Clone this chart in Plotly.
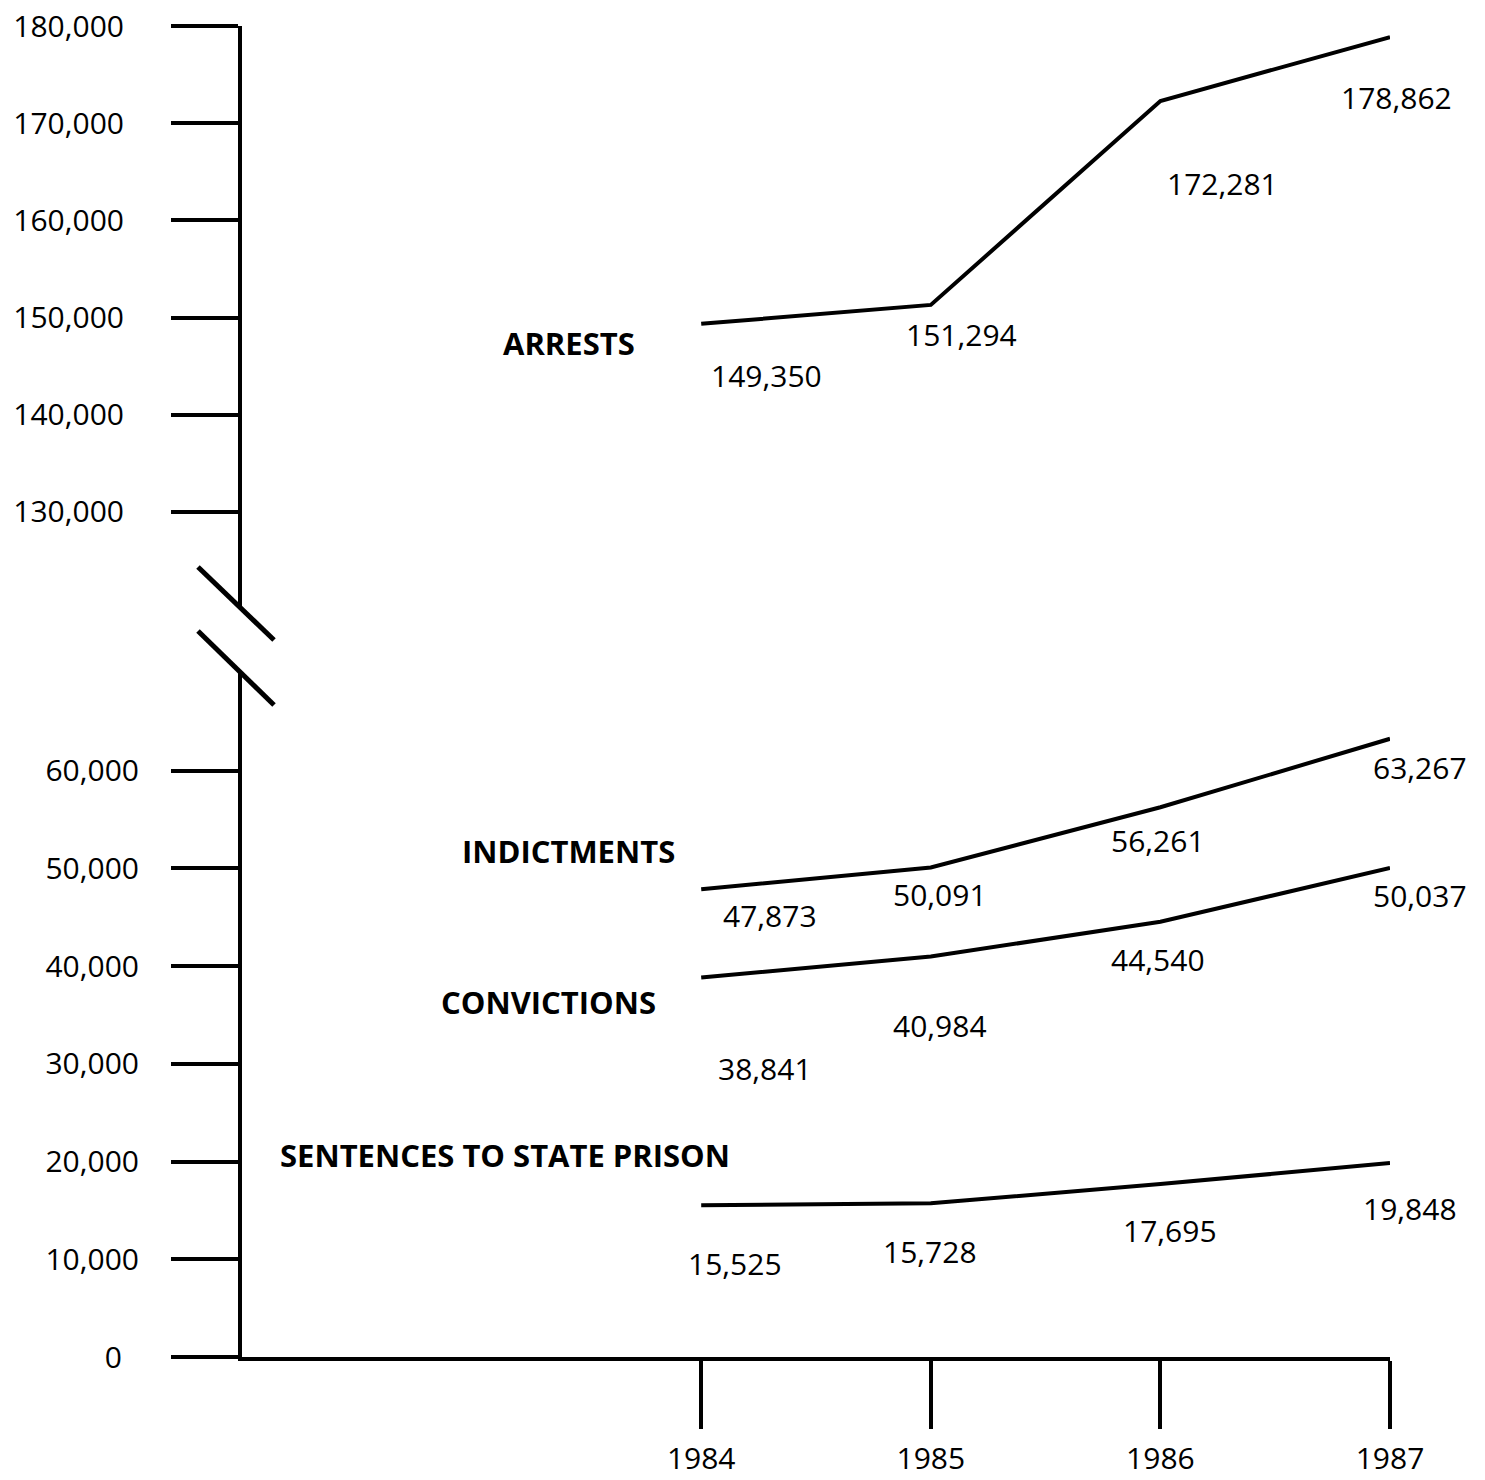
import plotly.graph_objects as go

# ---------------- data ----------------
years = [1984, 1985, 1986, 1987]
arrests = [149350, 151294, 172281, 178862]
indictments = [47873, 50091, 56261, 63267]
convictions = [38841, 40984, 44540, 50037]
sentences = [15525, 15728, 17695, 19848]
series_names = ["ARRESTS", "INDICTMENTS", "CONVICTIONS", "SENTENCES TO STATE PRISON"]
upper_ticks = [130000, 140000, 150000, 160000, 170000, 180000]
lower_ticks = [0, 10000, 20000, 30000, 40000, 50000, 60000]

# ---------------- layout helpers ----------------
W, H = 1485, 1480
FONT = "Open Sans"


def fx(px):
    return px / W


def fy(py):
    return 1 - py / H


# value-label offsets from their data point (pixels: right, down)
label_offsets = {
    "ARRESTS": [(65, 52), (31, 30), (62, 82), (6, 60)],
    "INDICTMENTS": [(69, 26), (9, 27), (-2, 33), (30, 29)],
    "CONVICTIONS": [(64, 91), (9, 69), (-2, 38), (30, 27)],
    "SENTENCES TO STATE PRISON": [(34, 58), (-1, 48), (10, 46), (20, 45)],
}
# series-name label centres (pixels)
name_pos = {
    "ARRESTS": (569, 343),
    "INDICTMENTS": (568, 851),
    "CONVICTIONS": (548, 1002),
    "SENTENCES TO STATE PRISON": (505, 1155),
}

series = {
    "ARRESTS": (arrests, "y2"),
    "INDICTMENTS": (indictments, "y"),
    "CONVICTIONS": (convictions, "y"),
    "SENTENCES TO STATE PRISON": (sentences, "y"),
}

fig = go.Figure()
annotations = []
for name in series_names:
    vals, yax = series[name]
    fig.add_trace(go.Scatter(
        x=years, y=vals, mode="lines", yaxis=yax, name=name,
        line=dict(color="black", width=4), showlegend=False, hoverinfo="skip"))
    for xv, yv, (dx, dy) in zip(years, vals, label_offsets[name]):
        annotations.append(dict(
            x=xv, y=yv, xref="x", yref=yax, text=f"{yv:,}", showarrow=False,
            xshift=dx, yshift=-dy, xanchor="center", yanchor="middle",
            font=dict(family=FONT, size=30, color="black")))
    px, py = name_pos[name]
    annotations.append(dict(
        x=fx(px), y=fy(py), xref="paper", yref="paper", text=name, showarrow=False,
        xanchor="center", yanchor="middle",
        font=dict(family=FONT, size=31, color="black", weight=700)))

# axis break marks
shapes = []
for (x0, y0, x1, y1) in [(198, 567, 274, 640), (198, 631, 274, 705)]:
    shapes.append(dict(type="line", xref="paper", yref="paper",
                       x0=fx(x0), y0=fy(y0), x1=fx(x1), y1=fy(y1),
                       line=dict(color="black", width=5)))

lower_text = [f"{v:,}" for v in lower_ticks]
lower_text[0] = "0\u2007"

axis_common = dict(showgrid=False, zeroline=False, showline=True, linecolor="black",
                   linewidth=4, ticks="outside", tickcolor="black", tickwidth=4,
                   tickfont=dict(family=FONT, size=30, color="black"),
                   fixedrange=True, automargin=False)

fig.update_layout(
    width=W, height=H,
    margin=dict(l=0, r=0, t=0, b=0),
    paper_bgcolor="white", plot_bgcolor="white",
    xaxis=dict(domain=[fx(242), fx(1390)], range=[1982, 1987], anchor="y",
               tickvals=years, ticktext=[str(y) for y in years],
               ticklen=68, ticklabelstandoff=4, **axis_common),
    yaxis=dict(domain=[fy(1357), fy(673)], range=[0, 70000], anchor="x",
               tickvals=lower_ticks, ticktext=lower_text,
               ticklen=67, ticklabelstandoff=26, **axis_common),
    yaxis2=dict(domain=[fy(609), fy(26)], range=[120000, 180000], anchor="x",
                tickvals=upper_ticks, ticktext=[f"{v:,}" for v in upper_ticks],
                ticklen=67, ticklabelstandoff=41, **axis_common),
    annotations=annotations,
    shapes=shapes,
)

fig.write_html("out.html", config={"displayModeBar": False},
               post_script="document.body.style.margin='0';document.body.style.overflow='hidden';")
